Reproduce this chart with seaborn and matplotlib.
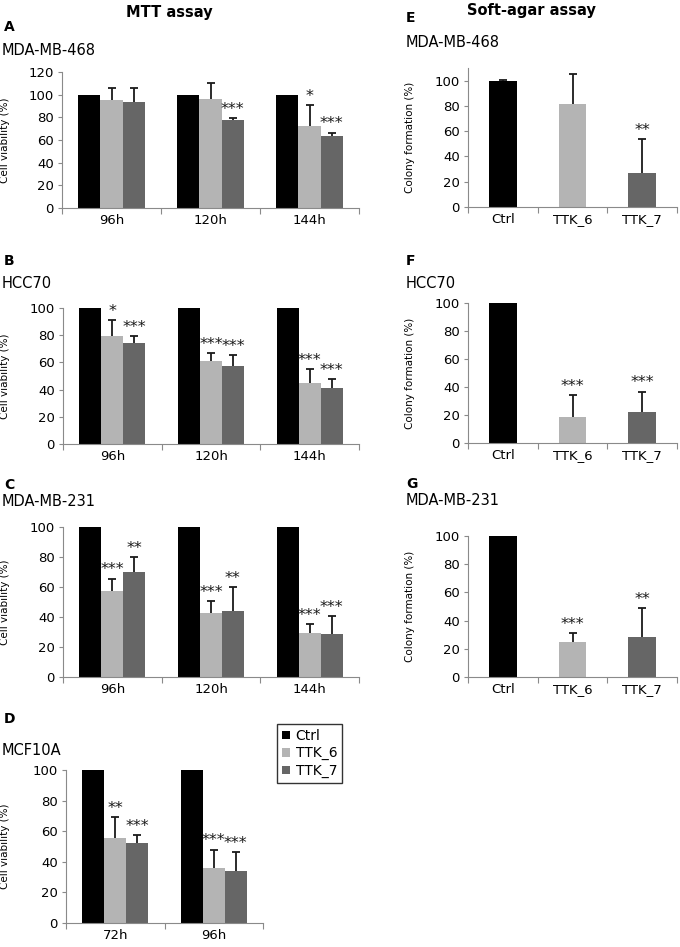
import numpy as np
import pandas as pd
import seaborn as sns
import matplotlib
matplotlib.use("Agg")
import matplotlib.pyplot as plt
from matplotlib.transforms import blended_transform_factory

# treatments and colours
groups = ["Ctrl", "TTK_6", "TTK_7"]
colors = ["#000000", "#b4b4b4", "#666666"]

# MTT assay, rows = Ctrl, TTK_6, TTK_7
times_A = ["96h", "120h", "144h"]
mean_A = [[100, 100, 100], [95, 96, 72], [93.5, 78, 63.5]]
err_A = [[0, 0, 0], [11, 14, 19], [12.5, 1, 3]]
star_A = [["", "", ""], ["", "", "*"], ["", "***", "***"]]

times_B = ["96h", "120h", "144h"]
mean_B = [[100, 100, 100], [79.6, 61, 45], [74.2, 57.7, 41.3]]
err_B = [[0, 0, 0], [11.4, 6, 10], [5.2, 7.9, 6.4]]
star_B = [["", "", ""], ["*", "***", "***"], ["***", "***", "***"]]

times_C = ["96h", "120h", "144h"]
mean_C = [[100, 100, 100], [57.3, 42.7, 29.3], [70.2, 44, 28.7]]
err_C = [[0, 0, 0], [8.3, 8, 6], [9.6, 16, 12]]
star_C = [["", "", ""], ["***", "***", "***"], ["**", "**", "***"]]

times_D = ["72h", "96h"]
mean_D = [[100, 100], [55.5, 36], [52, 34.2]]
err_D = [[0, 0], [13.8, 12], [5.3, 12]]
star_D = [["", ""], ["**", "***"], ["***", "***"]]

# soft-agar assay, one value per treatment
mean_E = [100, 81.7, 26.7]
err_E = [0.4, 23.3, 27.2]
star_E = ["", "", "**"]

mean_F = [100, 18.8, 22.1]
err_F = [0, 15.7, 14.6]
star_F = ["", "***", "***"]

mean_G = [100, 24.6, 28.4]
err_G = [0, 6.7, 20.4]
star_G = ["", "***", "**"]

sns.set_theme(style="white", rc={"text.color": "black", "axes.labelcolor": "black",
                                 "xtick.color": "black", "ytick.color": "black"})
plt.rcParams['font.family'] = ['DejaVu Sans']

W, H = 680, 947
fig = plt.figure(figsize=(W / 100, H / 100), dpi=100)


def rect(l, r, top, bottom):
    return [l / W, 1 - bottom / H, (r - l) / W, (bottom - top) / H]


def add_err(ax, bar, err, star):
    x = bar.get_x() + bar.get_width() / 2
    h = bar.get_height()
    if err > 0:
        _, caps, _ = ax.errorbar(x, h, yerr=[[0], [err]], color="k", lw=1.3,
                                 capsize=3, capthick=1.3, zorder=5)
        for cl in caps:
            if np.allclose(cl.get_ydata(), h):
                cl.set_visible(False)
    if star:
        ax.annotate(star, (x, h + err), xytext=(0, 3), textcoords="offset points",
                    ha="center", va="baseline", fontsize=11.5, color="k")


def style_axes(ax, cats, ymax, ylabel, label_x):
    n = len(cats)
    ax.set_xlim(-0.5, n - 0.5)
    ax.set_ylim(0, ymax)
    ax.set_yticks(np.arange(0, min(ymax, 120) + 1, 20))
    ax.set_xticks(np.arange(n + 1) - 0.5, labels=[])
    ax.set_xticks(np.arange(n), labels=cats, minor=True)
    ax.tick_params(axis="x", which="major", length=4, width=0.8, color="#8a8a8a",
                   direction="out", bottom=True)
    ax.tick_params(axis="x", which="minor", length=0, labelsize=9.5, pad=4, bottom=True,
                   labelcolor="black")
    ax.tick_params(axis="y", length=3, width=0.8, color="#8a8a8a", direction="out",
                   labelsize=9.5, pad=3, left=True, labelcolor="black")
    for s in ["top", "right"]:
        ax.spines[s].set_visible(False)
    for s in ["left", "bottom"]:
        ax.spines[s].set_color("#8a8a8a")
        ax.spines[s].set_linewidth(0.8)
    ax.set_xlabel("")
    ax.set_ylabel(ylabel, fontsize=7.5, color="black")
    ax.yaxis.set_label_coords(label_x / W, 0.5,
                              transform=blended_transform_factory(fig.transFigure, ax.transAxes))


def mtt_panel(box, times, mean, err, star, ymax, legend=False):
    ax = fig.add_axes(rect(*box))
    df = pd.DataFrame({
        "time": [t for g in groups for t in times],
        "group": [g for g in groups for t in times],
        "value": [v for row in mean for v in row],
    })
    sns.barplot(data=df, x="time", y="value", hue="group", hue_order=groups,
                palette=colors, width=0.667, saturation=1, errorbar=None,
                linewidth=0, legend=legend, ax=ax)
    bar_sets = list(ax.containers)
    for i, cont in enumerate(bar_sets):
        for bar, e, s in zip(cont, err[i], star[i]):
            add_err(ax, bar, e, s)
    style_axes(ax, times, ymax, "Cell viability (%)", 10)
    return ax


def soft_panel(box, mean, err, star, ymax):
    ax = fig.add_axes(rect(*box))
    sns.barplot(x=groups, y=mean, hue=groups, palette=colors, width=0.4,
                saturation=1, errorbar=None, linewidth=0, legend=False,
                dodge=False, ax=ax)
    bars = sorted(ax.patches, key=lambda p: p.get_x())
    for bar, e, s in zip(bars, err, star):
        add_err(ax, bar, e, s)
    style_axes(ax, groups, ymax, "Colony formation (%)", 415)
    return ax


ax_a = mtt_panel((62, 359, 72, 208), times_A, mean_A, err_A, star_A, 120)
ax_b = mtt_panel((63, 359, 308, 444), times_B, mean_B, err_B, star_B, 100)
ax_c = mtt_panel((63, 359, 527, 677), times_C, mean_C, err_C, star_C, 100)
ax_d = mtt_panel((66, 263, 770, 923), times_D, mean_D, err_D, star_D, 100, legend=True)

ax_e = soft_panel((468, 677, 68, 207), mean_E, err_E, star_E, 110)
ax_f = soft_panel((468, 677, 303, 443), mean_F, err_F, star_F, 100)
ax_g = soft_panel((468, 677, 536, 677), mean_G, err_G, star_G, 100)

leg = ax_d.legend(loc="upper left", bbox_to_anchor=(277 / W, 1 - 724 / H),
                  bbox_transform=fig.transFigure, borderaxespad=0, fontsize=10,
                  handlelength=0.6, handleheight=0.6, handletextpad=0.4,
                  labelspacing=0.25, borderpad=0.35, fancybox=False, frameon=True)
leg.get_frame().set_edgecolor("black")
leg.get_frame().set_linewidth(1)
for t in leg.get_texts():
    t.set_color("black")


def ftext(x, y, s, **kw):
    fig.text(x / W, 1 - y / H, s, color="black", **kw)


ftext(169, 12, "MTT assay", ha="center", va="center", fontsize=10.5, fontweight="bold")
ftext(531, 11, "Soft-agar assay", ha="center", va="center", fontsize=10.5, fontweight="bold")

# baselines of panel letters and cell line names
letters = [("A", 4, 31), ("B", 4, 265), ("C", 4, 489), ("D", 4, 723),
           ("E", 406, 22), ("F", 406, 265), ("G", 406, 488)]
for s, x, y in letters:
    ftext(x, y, s, ha="left", va="baseline", fontsize=10, fontweight="heavy")

cells = [("MDA-MB-468", 2, 55), ("HCC70", 2, 288), ("MDA-MB-231", 2, 506), ("MCF10A", 2, 755),
         ("MDA-MB-468", 406, 47), ("HCC70", 406, 288), ("MDA-MB-231", 406, 505)]
for s, x, y in cells:
    ftext(x, y, s, ha="left", va="baseline", fontsize=10.5)

fig.savefig("out.png", dpi=100)
